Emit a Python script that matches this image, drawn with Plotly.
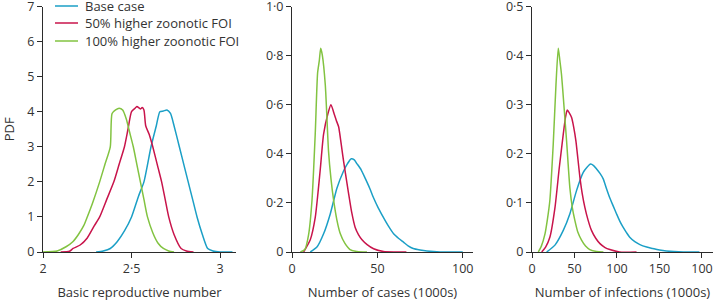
import plotly.graph_objects as go

# ---------------- data ----------------
# Panel 1: basic reproductive number
r0_base_x = [2.30, 2.34, 2.38, 2.42, 2.46, 2.50, 2.54, 2.57, 2.61, 2.64, 2.66, 2.68, 2.70, 2.72, 2.74, 2.77, 2.80, 2.82, 2.85, 2.87, 2.90, 2.93, 2.96, 3.00, 3.04, 3.07]
r0_base_y = [0.0, 0.03, 0.1, 0.3, 0.6, 1.0, 1.6, 2.0, 3.0, 3.6, 4.0, 4.02, 4.05, 3.95, 3.6, 3.0, 2.4, 2.0, 1.4, 1.0, 0.5, 0.1, 0.03, 0.0, 0.0, 0.0]
r0_50_x = [2.10, 2.15, 2.17, 2.21, 2.25, 2.29, 2.32, 2.36, 2.40, 2.43, 2.46, 2.48, 2.50, 2.52, 2.53, 2.55, 2.56, 2.57, 2.58, 2.60, 2.62, 2.65, 2.67, 2.69, 2.71, 2.74, 2.78, 2.81, 2.85]
r0_50_y = [0.0, 0.02, 0.1, 0.2, 0.4, 0.75, 1.0, 1.5, 2.0, 2.5, 3.0, 3.5, 4.0, 4.1, 4.15, 4.08, 4.12, 4.05, 3.6, 3.35, 3.0, 2.4, 2.0, 1.5, 1.0, 0.5, 0.1, 0.03, 0.0]
r0_100_x = [2.00, 2.08, 2.13, 2.17, 2.20, 2.23, 2.25, 2.28, 2.32, 2.35, 2.38, 2.39, 2.41, 2.43, 2.45, 2.47, 2.49, 2.51, 2.53, 2.55, 2.57, 2.59, 2.62, 2.65, 2.68, 2.71, 2.74]
r0_100_y = [0.0, 0.03, 0.15, 0.3, 0.5, 0.75, 1.0, 1.4, 2.0, 2.5, 3.0, 3.95, 4.05, 4.1, 4.05, 3.8, 3.4, 3.0, 2.5, 2.0, 1.5, 1.0, 0.55, 0.25, 0.1, 0.03, 0.0]

# Panel 2: number of cases (1000s)
cases_base_x = [10.7, 14.6, 18.5, 22.4, 26.3, 30.2, 32.5, 34.7, 36.5, 38.0, 40.5, 42.9, 45.5, 47.8, 50.5, 53.6, 56.5, 59.5, 62.5, 65.3, 68.0, 71.0, 75.0, 79.0, 86.7, 100.0]
cases_base_y = [0.0, 0.02, 0.074, 0.155, 0.26, 0.33, 0.36, 0.38, 0.375, 0.36, 0.335, 0.30, 0.26, 0.22, 0.18, 0.14, 0.105, 0.074, 0.055, 0.04, 0.025, 0.014, 0.008, 0.004, 0.0, 0.0]
cases_50_x = [6.8, 10.7, 13.6, 15.2, 16.6, 18.5, 20.9, 22.8, 24.8, 26.0, 27.3, 28.8, 30.2, 33.1, 35.0, 37.0, 39.0, 41.0, 44.0, 47.8, 53.6, 60.0, 67.0]
cases_50_y = [0.0, 0.05, 0.14, 0.24, 0.34, 0.48, 0.56, 0.60, 0.56, 0.535, 0.51, 0.44, 0.37, 0.24, 0.16, 0.10, 0.07, 0.05, 0.03, 0.013, 0.002, 0.0, 0.0]
cases_100_x = [4.9, 7.5, 9.7, 11.7, 13.6, 15.0, 16.0, 16.8, 17.8, 19.5, 21.4, 22.8, 24.4, 26.3, 28.3, 31.0, 34.0, 38.0, 43.9]
cases_100_y = [0.0, 0.01, 0.07, 0.21, 0.48, 0.73, 0.78, 0.83, 0.80, 0.68, 0.41, 0.30, 0.21, 0.13, 0.074, 0.035, 0.01, 0.002, 0.0]

# Panel 3: number of infections (1000s)
inf_base_x = [17.2, 27.0, 36.8, 44.6, 52.4, 60.3, 64.5, 68.9, 72.5, 76.0, 80.0, 83.8, 87.5, 91.6, 95.5, 99.4, 103.0, 107.0, 111.0, 115.0, 121.0, 127.0, 135.0, 142.0, 150.0, 158.0, 178.0, 197.0]
inf_base_y = [0.0, 0.014, 0.044, 0.078, 0.125, 0.162, 0.172, 0.179, 0.176, 0.169, 0.16, 0.149, 0.13, 0.11, 0.094, 0.078, 0.064, 0.051, 0.04, 0.03, 0.021, 0.015, 0.01, 0.007, 0.004, 0.002, 0.0, 0.0]
inf_50_x = [11.4, 16.0, 21.0, 27.0, 32.0, 36.8, 39.5, 41.5, 44.0, 46.6, 49.0, 51.7, 54.0, 56.4, 59.0, 62.2, 66.0, 70.0, 75.0, 80.0, 86.0, 91.6, 103.0, 123.0]
inf_50_y = [0.0, 0.01, 0.03, 0.09, 0.17, 0.24, 0.275, 0.289, 0.283, 0.274, 0.255, 0.226, 0.19, 0.152, 0.12, 0.091, 0.065, 0.044, 0.028, 0.017, 0.009, 0.005, 0.0, 0.0]
inf_100_x = [7.4, 11.0, 15.3, 18.0, 21.0, 25.0, 28.2, 30.9, 32.8, 34.8, 37.5, 40.7, 44.6, 47.5, 50.5, 54.0, 58.3, 63.0, 68.0, 76.0, 84.0]
inf_100_y = [0.0, 0.012, 0.037, 0.065, 0.105, 0.22, 0.34, 0.415, 0.39, 0.36, 0.30, 0.226, 0.13, 0.09, 0.064, 0.04, 0.024, 0.012, 0.005, 0.001, 0.0]

series_names = ["Base case", "50% higher zoonotic FOI", "100% higher zoonotic FOI"]
series_colors = ["#1b9fc6", "#c8144b", "#82c341"]

r0_ticks = [2, 2.5, 3]
r0_ticktext = ["2", "2·5", "3"]
r0_yticks = [0, 1, 2, 3, 4, 5, 6, 7]
cases_ticks = [0, 50, 100]
cases_yticks = [0, 0.2, 0.4, 0.6, 0.8, 1.0]
cases_ytext = ["0", "0·2", "0·4", "0·6", "0·8", "1·0"]
inf_ticks = [0, 50, 100, 150, 200]
inf_ticktext = ["0", "50", "100", "150", "100"]
inf_yticks = [0, 0.1, 0.2, 0.3, 0.4, 0.5]
inf_ytext = ["0", "0·1", "0·2", "0·3", "0·4", "0·5"]

# ---------------- figure ----------------
W, H = 715, 301
fig = go.Figure()

panels = [
    ("x", "y", [(r0_base_x, r0_base_y), (r0_50_x, r0_50_y), (r0_100_x, r0_100_y)]),
    ("x2", "y2", [(cases_base_x, cases_base_y), (cases_50_x, cases_50_y), (cases_100_x, cases_100_y)]),
    ("x3", "y3", [(inf_base_x, inf_base_y), (inf_50_x, inf_50_y), (inf_100_x, inf_100_y)]),
]
for pi, (xa, ya, data) in enumerate(panels):
    for si, (xs, ys) in enumerate(data):
        fig.add_trace(go.Scatter(
            x=xs, y=ys, xaxis=xa, yaxis=ya, mode="lines",
            line=dict(color=series_colors[si], width=1.5, shape="spline", smoothing=0.6),
            name=series_names[si], showlegend=False, hoverinfo="skip",
        ))

font_family = "Open Sans, Noto Sans, DejaVu Sans, sans-serif"
axis_color = "#2b2b2b"
text_color = "#333333"
tick_font = dict(family=font_family, size=12.5, color=text_color)

def xdom(a, b):
    return [a / W, b / W]

ydom = [(H - 252) / H, (H - 6.5) / H]

common = dict(showline=True, linecolor=axis_color, linewidth=1, ticks="outside",
              ticklen=5, tickcolor=axis_color, tickwidth=1, showgrid=False,
              zeroline=False, tickfont=tick_font, automargin=False,
              ticklabeloverflow="allow")
title_font = dict(family=font_family, size=13, color=text_color)

# manual legend (top-left of first panel)
legend_line_x0, legend_line_x1, legend_text_x = 55, 78, 83
legend_rows_y = [6, 23, 41]
for name, color, ry in zip(series_names, series_colors, legend_rows_y):
    fig.add_shape(type="line", xref="paper", yref="paper",
                  x0=legend_line_x0 / W, x1=legend_line_x1 / W,
                  y0=(H - ry) / H, y1=(H - ry) / H,
                  line=dict(color=color, width=1.5))
    fig.add_annotation(xref="paper", yref="paper", x=legend_text_x / W, y=(H - ry) / H,
                       text=name, showarrow=False, xanchor="left", yanchor="middle",
                       font=dict(family=font_family, size=13, color=text_color))

fig.update_layout(
    width=W, height=H,
    margin=dict(l=0, r=0, t=0, b=0, autoexpand=False),
    paper_bgcolor="white", plot_bgcolor="white",
    showlegend=False,
    xaxis=dict(domain=xdom(43, 236), range=[2, 3.09], tickvals=r0_ticks, ticktext=r0_ticktext,
               anchor="y", title=dict(text="Basic reproductive number", font=title_font), **common),
    yaxis=dict(domain=ydom, range=[0, 7], tickvals=r0_yticks, anchor="x",
               title=dict(text="PDF", font=title_font), **common),
    xaxis2=dict(domain=xdom(292, 473), range=[0, 106], tickvals=cases_ticks,
                anchor="y2", title=dict(text="Number of cases (1000s)", font=title_font), **common),
    yaxis2=dict(domain=ydom, range=[0, 1.0], tickvals=cases_yticks, ticktext=cases_ytext,
                anchor="x2", **common),
    xaxis3=dict(domain=xdom(532, 713), range=[0, 213], tickvals=inf_ticks, ticktext=inf_ticktext,
                anchor="y3", title=dict(text="Number of infections (1000s)", font=title_font), **common),
    yaxis3=dict(domain=ydom, range=[0, 0.5], tickvals=inf_yticks, ticktext=inf_ytext,
                anchor="x3", **common),
)

fig.write_html(
    "out.html",
    config={"displayModeBar": False, "staticPlot": True},
    post_script="document.body.style.margin='0';document.body.style.padding='0';document.body.style.overflow='hidden';",
)
